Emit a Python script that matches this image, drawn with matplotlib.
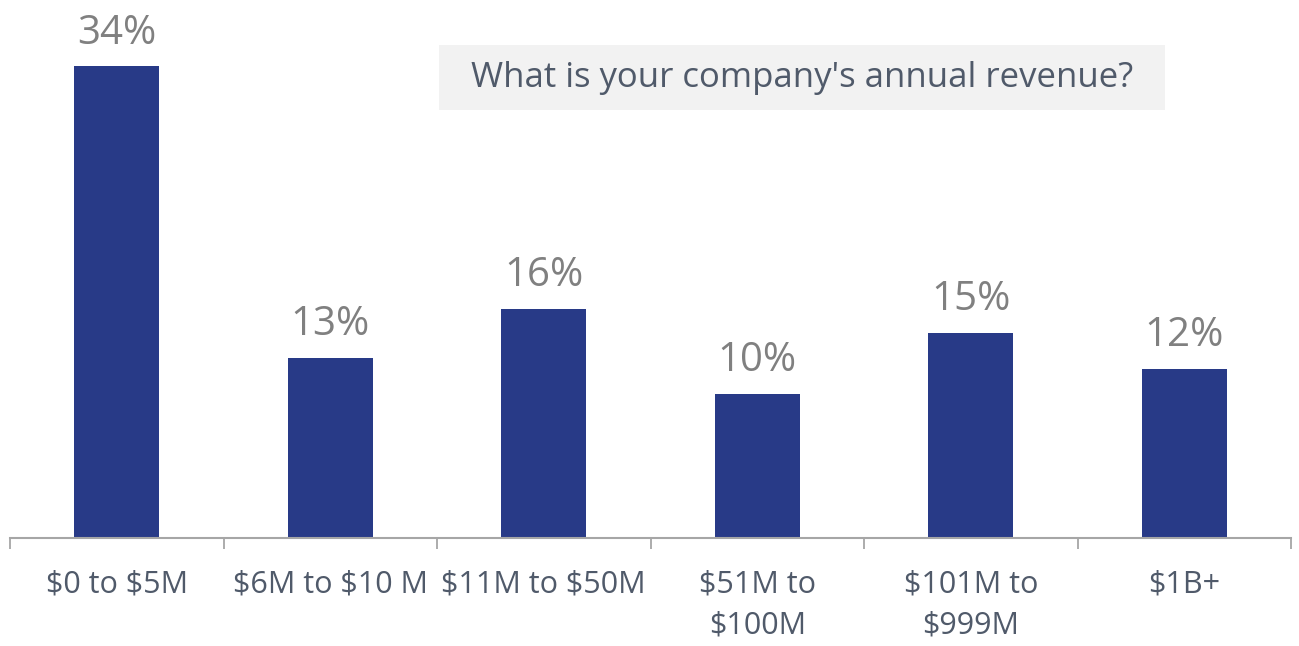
import matplotlib.pyplot as plt
from matplotlib.patches import Rectangle

plt.rcParams['font.family'] = ['Open Sans', 'DejaVu Sans']
plt.rcParams['text.parse_math'] = False

categories = ['$0 to $5M', '$6M to $10 M', '$11M to $50M', '$51M to\n$100M', '$101M to\n$999M', '$1B+']
values = [34, 13.0, 16.5, 10.4, 14.8, 12.2]
value_labels = ['34%', '13%', '16%', '10%', '15%', '12%']
title = "What is your company's annual revenue?"

W, H = 1299, 646
fig = plt.figure(figsize=(W / 100, H / 100), dpi=100)
ax = fig.add_axes([10 / W, (H - 538) / H, 1281 / W, 538 / H])

bar_color = '#283a87'
text_color = '#505a6a'
x = range(len(categories))
ax.bar(x, values, width=0.4, color=bar_color)
for i, v in enumerate(values):
    ax.annotate(value_labels[i], (i, v), xytext=(0, 9), textcoords='offset points',
                ha='center', va='bottom', fontsize=29, color='#808080')

ax.set_xlim(-0.5, len(categories) - 0.5)
ax.set_ylim(0, 538 / 13.88)
ax.set_yticks([])
for s in ['top', 'right', 'left']:
    ax.spines[s].set_visible(False)
ax.spines['bottom'].set_color('#a6a6a6')
ax.spines['bottom'].set_linewidth(1.5)

ax.set_xticks(list(x))
ax.set_xticklabels(categories, fontsize=22, color=text_color, linespacing=1.45, va='top')
ax.tick_params(axis='x', which='major', length=0, pad=23)
ax.set_xticks([i - 0.5 for i in range(len(categories) + 1)], minor=True)
ax.tick_params(axis='x', which='minor', length=8, width=1.3, color='#a6a6a6')

# question box
fig.patches.append(Rectangle((439 / W, 1 - 110 / H), 726 / W, 65 / H,
                             transform=fig.transFigure, facecolor='#f2f2f2', edgecolor='none'))
fig.text(802 / W, 1 - 78 / H, title, ha='center', va='center', fontsize=25, color=text_color)

plt.savefig('out.png', dpi=100)
